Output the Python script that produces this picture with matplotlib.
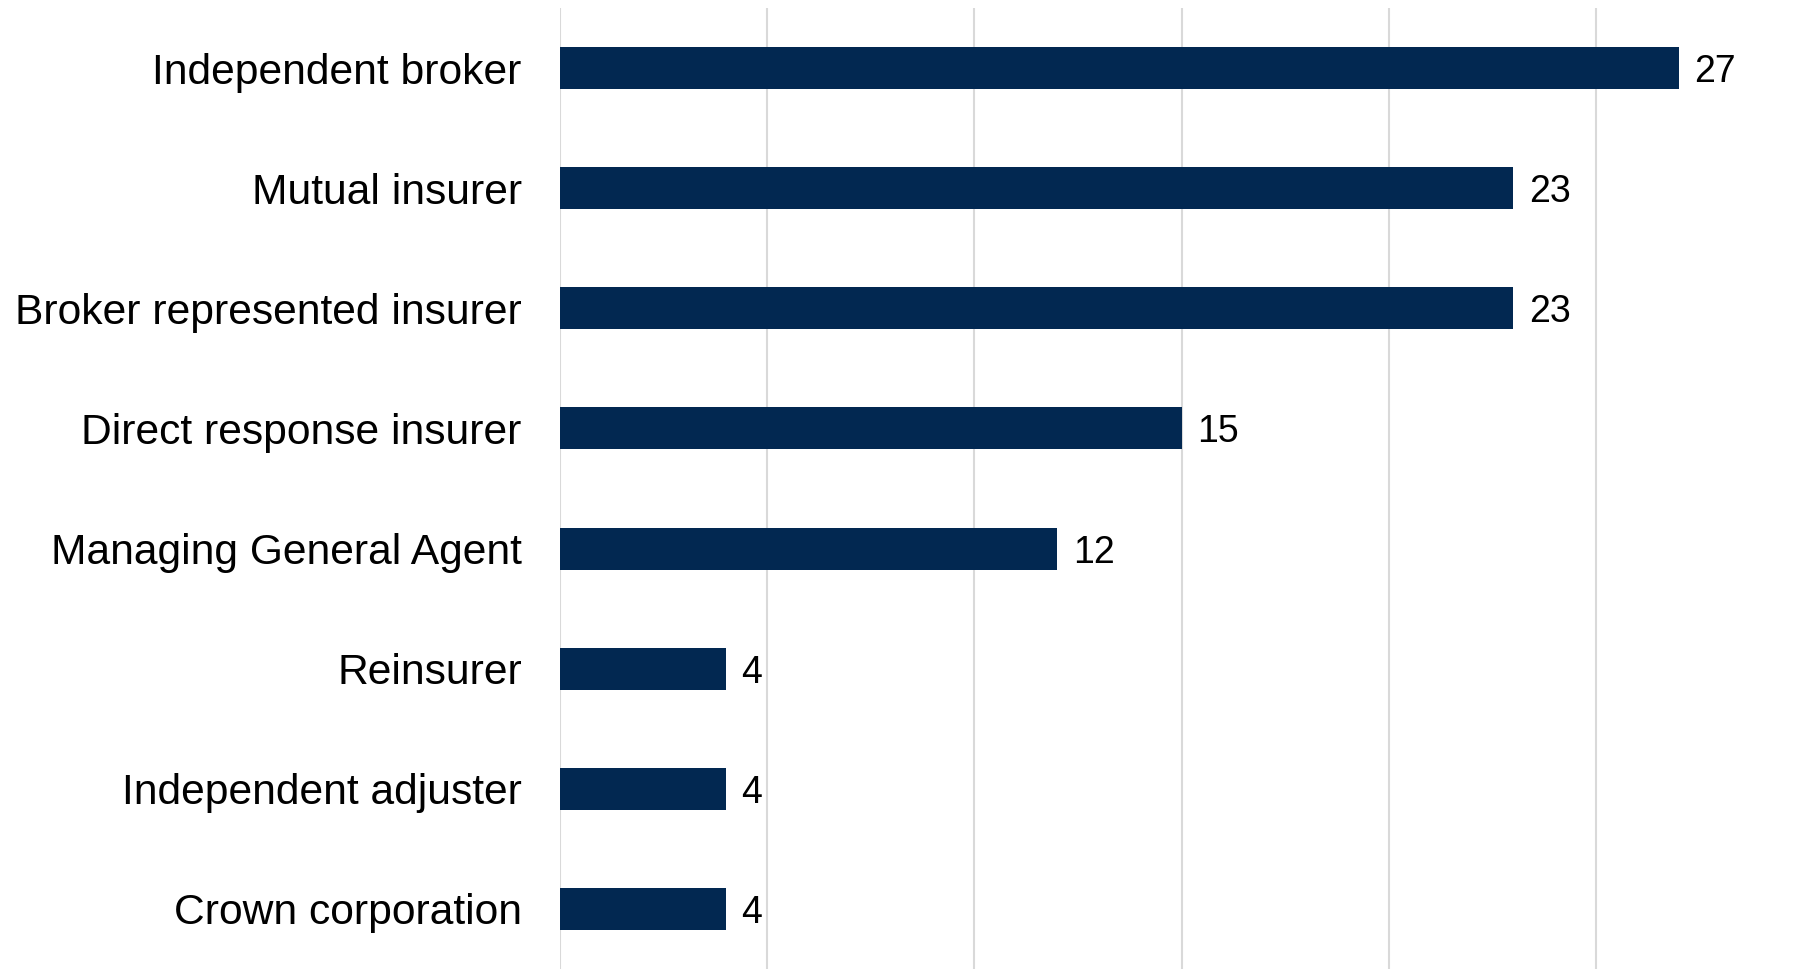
import matplotlib
matplotlib.use('Agg')
import matplotlib.pyplot as plt

# Respondent counts by organisation type
categories = [
    'Independent broker',
    'Mutual insurer',
    'Broker represented insurer',
    'Direct response insurer',
    'Managing General Agent',
    'Reinsurer',
    'Independent adjuster',
    'Crown corporation',
]
counts = [27, 23, 23, 15, 12, 4, 4, 4]
x_ticks = [0, 5, 10, 15, 20, 25]

plt.rcParams['font.family'] = ['Liberation Sans', 'DejaVu Sans']

fig = plt.figure(figsize=(18.03, 9.69), dpi=100)
ax = fig.add_axes([0.3106, 0.0, 0.6894, 0.9917])

ypos = list(range(len(categories)))
bars = ax.barh(ypos, counts, height=0.35, color='#022851', zorder=3)

for bar, val in zip(bars, counts):
    ax.text(bar.get_width() + 0.38, bar.get_y() + bar.get_height() / 2,
            str(val), va='center_baseline', ha='left', fontsize=27,
            color='black')

ax.set_xlim(0, 30)
ax.set_ylim(len(categories) - 0.5, -0.5)
ax.set_yticks(ypos)
ax.set_yticklabels(categories, fontsize=30.7, va='center_baseline')
ax.set_xticks(x_ticks)
ax.tick_params(axis='x', bottom=False, labelbottom=False)
ax.tick_params(axis='y', left=False, pad=24)
ax.grid(axis='x', color='#d9d9d9', linewidth=1.5, zorder=0)
for s in ax.spines.values():
    s.set_visible(False)

fig.savefig('out.png', dpi=100)
